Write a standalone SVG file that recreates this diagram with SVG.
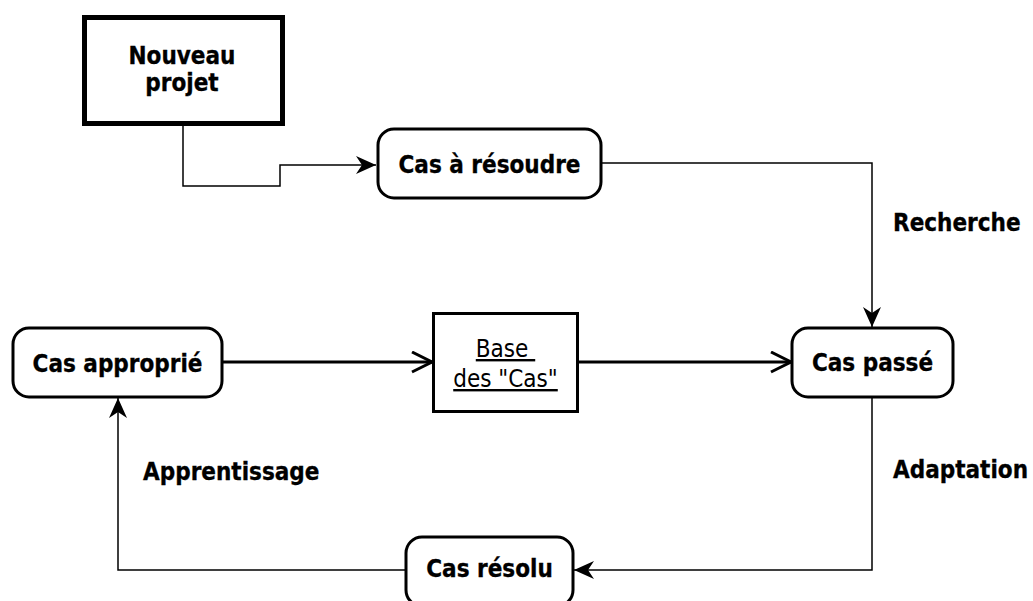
<svg xmlns="http://www.w3.org/2000/svg" width="1033" height="601" viewBox="0 0 1033 601">
<style>
.node{fill:#fff;stroke:#000;stroke-width:3}
.lbl{font-family:"DejaVu Sans Condensed","DejaVu Sans",sans-serif;font-weight:bold;font-size:24px;fill:#000;stroke:#000;stroke-width:0.3}
.norm{font-family:"DejaVu Sans Condensed","DejaVu Sans",sans-serif;font-size:24px;fill:#000;text-decoration:underline;white-space:pre}
.thin{fill:none;stroke:#000;stroke-width:1.5}
.thick{fill:none;stroke:#000;stroke-width:3}
</style>
<defs>
<marker id="filled" markerUnits="userSpaceOnUse" markerWidth="24" markerHeight="22" refX="20" refY="9" orient="auto">
<path d="M0,0 L20,9 L0,18 L6,9 Z" fill="#000"/>
</marker>
<marker id="open" markerUnits="userSpaceOnUse" markerWidth="26" markerHeight="26" refX="21" refY="11" orient="auto">
<path d="M1,1 L21,11 L1,21" fill="none" stroke="#000" stroke-width="3"/>
</marker>
</defs>
<g id="connectors">
<path class="thin" d="M183,125 V186 H280 V165 H376" marker-end="url(#filled)"/>
<path class="thin" d="M602,163 H872 V327" marker-end="url(#filled)"/>
<path class="thick" d="M222,362 H432" marker-end="url(#open)"/>
<path class="thick" d="M578,362 H791" marker-end="url(#open)"/>
<path class="thin" d="M872,397 V570 H574" marker-end="url(#filled)"/>
<path class="thin" d="M406,570 H118 V398" marker-end="url(#filled)"/>
<text class="lbl" x="893" y="231">Recherche</text>
<text class="lbl" x="893" y="478">Adaptation</text>
<text class="lbl" x="143" y="480">Apprentissage</text>
</g>
<g id="nouveau-projet">
<rect x="84.5" y="17.5" width="198" height="106" fill="#fff" stroke="#000" stroke-width="5"/>
<text class="lbl" x="182" y="64" text-anchor="middle">Nouveau</text>
<text class="lbl" x="182" y="91" text-anchor="middle">projet</text>
</g>
<g id="cas-a-resoudre">
<rect class="node" x="378" y="129" width="223" height="69" rx="16"/>
<text class="lbl" x="489.5" y="173" text-anchor="middle">Cas à résoudre</text>
</g>
<g id="cas-approprie">
<rect class="node" x="13" y="328" width="209" height="69" rx="16"/>
<text class="lbl" x="117.5" y="372" text-anchor="middle">Cas approprié</text>
</g>
<g id="base-des-cas">
<rect class="node" x="433.5" y="313.5" width="144" height="98"/>
<text class="norm" x="505.5" y="357" text-anchor="middle">Base </text>
<text class="norm" x="505.5" y="387" text-anchor="middle">des "Cas"</text>
</g>
<g id="cas-passe">
<rect class="node" x="792" y="328" width="161" height="69" rx="16"/>
<text class="lbl" x="872.5" y="371" text-anchor="middle">Cas passé</text>
</g>
<g id="cas-resolu">
<rect class="node" x="406" y="537" width="167" height="69" rx="16"/>
<text class="lbl" x="489.5" y="577" text-anchor="middle">Cas résolu</text>
</g>
</svg>
